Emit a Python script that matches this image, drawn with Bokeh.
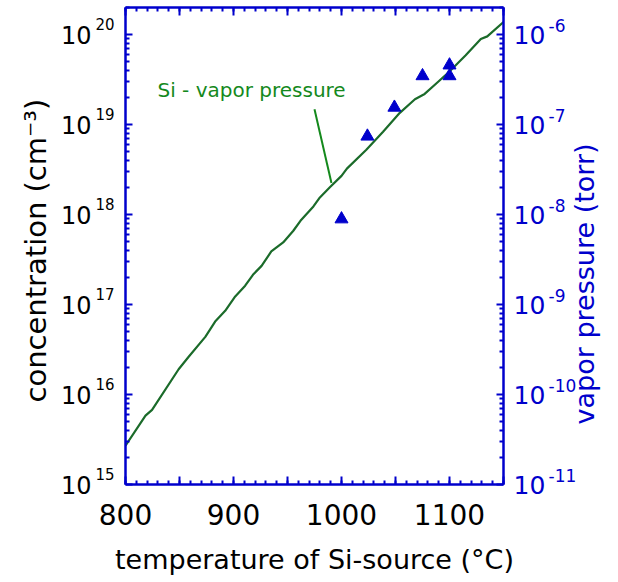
import math
from bokeh.plotting import figure
from bokeh.models import Range1d, LogAxis, LinearAxis, FixedTicker, Label, LogScale
from bokeh.embed import file_html
from bokeh.resources import INLINE

# ---------------- data ----------------
temp_curve = [800, 818.5, 824.6, 849.2, 858.5, 873.9, 883, 892.3, 901.6, 910.8,
              918, 926, 935, 946, 955.4, 962, 974, 980, 989, 1000,
              1005, 1023, 1038.5, 1054, 1068, 1077, 1088, 1100, 1115, 1129,
              1135, 1150]
conc_curve = [2.7e15, 5.82e15, 6.76e15, 1.91e16, 2.63e16, 4.37e16, 6.46e16, 8.51e16, 1.23e17, 1.62e17,
              2.14e17, 2.69e17, 3.89e17, 4.90e17, 6.61e17, 8.51e17, 1.23e18, 1.55e18, 2.00e18, 2.69e18,
              3.24e18, 5.25e18, 8.32e18, 1.35e19, 1.91e19, 2.19e19, 2.88e19, 3.89e19, 5.89e19, 8.91e19,
              9.55e19, 1.38e20]

temp_meas = [1000, 1024, 1049, 1075, 1100, 1100]
conc_meas = [8.9e17, 7.4e18, 1.55e19, 3.47e19, 4.57e19, 3.47e19]

x_ticks = [800, 850, 900, 950, 1000, 1050, 1100, 1150]
x_minor = list(range(800, 1151, 10))
x_tick_labels = [800, 900, 1000, 1100]
conc_exp = [15, 16, 17, 18, 19, 20]
vp_exp = [-11, -10, -9, -8, -7, -6]

curve_label = "Si - vapor pressure"
curve_label_pos = (829.6, 2.4e19)
leader_x = [975, 990.7]
leader_y = [1.48e19, 2.24e18]

x_title = "temperature of Si-source (°C)"
left_title = "concentration  (cm⁻³)"
right_title = "vapor pressure (torr)"

FONT = "DejaVu Sans"
BLUE = "#0000cc"
GREEN_LINE = "#1b6b2a"
GREEN_TXT = "#14891c"

# ---------------- figure ----------------
Y0, Y1 = 1e15, 2e20
V0, V1 = 1e-11, 2e-6
PX_DEC = 477 / math.log10(Y1 / Y0)
k_left = 10 ** (10.5 / PX_DEC)    # raise of the exponent labels (left)
k_right = 10 ** (9.0 / PX_DEC)    # raise of the exponent labels (right)

p = figure(width=618, height=580,
           x_range=Range1d(800, 1150), y_range=Range1d(Y0, Y1),
           y_axis_type="log", output_backend="svg", toolbar_location=None,
           min_border_left=125, min_border_right=115,
           min_border_top=7, min_border_bottom=96)
p.extra_y_ranges = {"vp": Range1d(V0, V1),
                    "conc_sup": Range1d(Y0 / k_left, Y1 / k_left),
                    "vp_sup": Range1d(V0 / k_right, V1 / k_right)}
p.extra_y_scales = {"vp": LogScale(), "conc_sup": LogScale(), "vp_sup": LogScale()}
p.grid.visible = False
p.outline_line_color = None
p.background_fill_color = "white"
p.border_fill_color = "white"

conc_ticks = [10.0 ** e for e in conc_exp]
conc_minor = [k * 10.0 ** e for e in conc_exp for k in range(2, 10)]
vp_ticks = [10.0 ** e for e in vp_exp]
vp_minor = [k * 10.0 ** e for e in vp_exp for k in range(2, 10)]


def tick_axis(ax, ticks, minor, tick_in=7):
    ax.ticker = FixedTicker(ticks=ticks, minor_ticks=minor)
    ax.major_label_overrides = {t: "" for t in ticks}
    ax.major_label_standoff = 0
    ax.axis_line_color = BLUE
    ax.axis_line_width = 2.5
    ax.major_tick_line_color = BLUE
    ax.minor_tick_line_color = BLUE
    ax.major_tick_line_width = 2
    ax.minor_tick_line_width = 2
    ax.major_tick_in = tick_in
    ax.major_tick_out = 0
    ax.minor_tick_in = 4
    ax.minor_tick_out = 0
    ax.axis_label = None


def label_axis(ax, ticks, texts, size, color, standoff):
    ax.ticker = FixedTicker(ticks=ticks, minor_ticks=[])
    ax.major_label_overrides = {t: s for t, s in zip(ticks, texts)}
    ax.major_label_standoff = standoff
    ax.major_label_text_font = FONT
    ax.major_label_text_font_size = size
    ax.major_label_text_color = color
    ax.axis_line_color = None
    ax.major_tick_line_color = None
    ax.minor_tick_line_color = None
    ax.major_tick_in = 0
    ax.major_tick_out = 0
    ax.minor_tick_in = 0
    ax.minor_tick_out = 0
    ax.axis_label_text_font = FONT
    ax.axis_label_text_font_style = "normal"


# bottom axis: ticks + labels + title
bx = p.xaxis[0]
tick_axis(bx, x_ticks, x_minor, tick_in=8)
bx.major_label_overrides = {t: (str(t) if t in x_tick_labels else "") for t in x_ticks}
bx.major_label_standoff = 19
bx.major_label_text_font = FONT
bx.major_label_text_font_size = "28px"
bx.major_label_text_color = "black"
bx.axis_label = x_title
bx.axis_label_text_font = FONT
bx.axis_label_text_font_style = "normal"
bx.axis_label_text_font_size = "27px"
bx.axis_label_text_color = "black"
bx.axis_label_standoff = 16

# top axis: ticks only
top = LinearAxis()
tick_axis(top, x_ticks, x_minor, tick_in=8)
p.add_layout(top, "above")

# left: ticks, then exponents, then mantissa "10" + title
tick_axis(p.yaxis[0], conc_ticks, conc_minor)
left_sup = LogAxis(y_range_name="conc_sup")
label_axis(left_sup, conc_ticks, [str(e) for e in conc_exp], "15px", "black", 11)
left_sup.axis_label = None
p.add_layout(left_sup, "left")
left_man = LogAxis()
label_axis(left_man, conc_ticks, ["10"] * len(conc_exp), "24px", "black", 1)
left_man.axis_label = left_title
left_man.axis_label_text_font_size = "29px"
left_man.axis_label_text_color = "black"
left_man.axis_label_standoff = 5
p.add_layout(left_man, "left")

# right: ticks, then mantissa "10", then exponents + title
right = LogAxis(y_range_name="vp")
tick_axis(right, vp_ticks, vp_minor)
p.add_layout(right, "right")
right_man = LogAxis(y_range_name="vp")
label_axis(right_man, vp_ticks, ["10"] * len(vp_exp), "25px", BLUE, 10)
right_man.axis_label = None
p.add_layout(right_man, "right")
right_sup = LogAxis(y_range_name="vp_sup")
label_axis(right_sup, vp_ticks, [str(e) for e in vp_exp], "17px", BLUE, 0)
# title reads bottom-to-top; anchored at the axis start, lifted by non-breaking spaces
right_sup.axis_label = "\u00a0" * 7 + right_title
right_sup.axis_label_text_font_size = "27px"
right_sup.axis_label_text_color = BLUE
right_sup.axis_label_standoff = 5
right_sup.axis_label_orientation = math.pi / 2
right_sup.axis_label_align = "start"
p.add_layout(right_sup, "right")

# ---------------- glyphs ----------------
p.line(temp_curve, conc_curve, line_color=GREEN_LINE, line_width=2.2)
p.scatter(temp_meas, conc_meas, marker="triangle", size=13,
          fill_color=BLUE, line_color=BLUE)
p.segment(x0=[leader_x[0]], y0=[leader_y[0]], x1=[leader_x[1]], y1=[leader_y[1]],
          line_color=GREEN_TXT, line_width=2)

p.add_layout(Label(x=curve_label_pos[0], y=curve_label_pos[1], text=curve_label, text_font=FONT,
                   text_font_size="20px", text_color=GREEN_TXT,
                   text_align="left", text_baseline="alphabetic"))

open("out.html", "w").write(file_html(p, INLINE))
